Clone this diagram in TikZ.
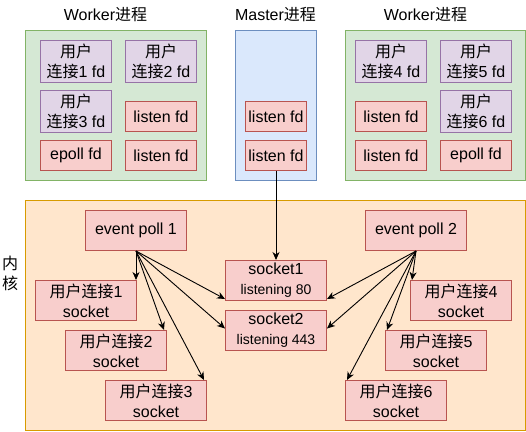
\documentclass[tikz,border=0pt]{standalone}
\usepackage{fontspec}
\setmainfont{Liberation Sans}
\newfontfamily\cjkf{Noto Sans CJK SC}
\usetikzlibrary{arrows.meta}
\definecolor{gfill}{HTML}{D5E8D4}\definecolor{gline}{HTML}{82B366}
\definecolor{bfill}{HTML}{DAE8FC}\definecolor{bline}{HTML}{6C8EBF}
\definecolor{pfill}{HTML}{E1D5E7}\definecolor{pline}{HTML}{9673A6}
\definecolor{rfill}{HTML}{F8CECC}\definecolor{rline}{HTML}{B85450}
\definecolor{ofill}{HTML}{FFE6CC}\definecolor{oline}{HTML}{D79B00}
\newcommand{\zh}[1]{{\cjkf #1}}
\begin{document}
\begin{tikzpicture}[x=1pt,y=-1pt,font=\fontsize{16}{20}\selectfont,
  grp/.style={draw,line width=1pt,anchor=north west,inner sep=0pt},
  ubox/.style={draw=pline,fill=pfill,line width=1pt,anchor=north west,inner sep=0pt,
    minimum width=71pt,minimum height=42pt,align=center},
  rbox/.style={draw=rline,fill=rfill,line width=1pt,anchor=north west,inner sep=0pt,
    minimum width=71pt,minimum height=30pt,align=center},
  mbox/.style={rbox,minimum width=61pt},
  kbox/.style={draw=rline,fill=rfill,line width=1pt,anchor=north west,inner sep=0pt,
    minimum width=101pt,minimum height=40pt,align=center},
  arr/.style={line width=0.9pt,-{Stealth[length=8pt,width=7pt,inset=2.5pt]}}]
\useasboundingbox (0,0) rectangle (526,431);
% process groups
\node[grp,draw=gline,fill=gfill,minimum width=181pt,minimum height=150pt] (wl) at (25,30) {};
\node[grp,draw=bline,fill=bfill,minimum width=81pt,minimum height=150pt] (ms) at (235,30) {};
\node[grp,draw=gline,fill=gfill,minimum width=180pt,minimum height=150pt] (wr) at (345,30) {};
\node (twl) at (105.5,15) {Worker\zh{进程}};
\node (tms) at (275.5,15) {Master\zh{进程}};
\node (twr) at (425.5,15) {Worker\zh{进程}};
% left worker
\node[ubox] (u1) at (40,40) {\zh{用户}\\\zh{连接}1 fd};
\node[ubox] (u2) at (125,40) {\zh{用户}\\\zh{连接}2 fd};
\node[ubox] (u3) at (40,90) {\zh{用户}\\\zh{连接}3 fd};
\node[rbox] (l1) at (125,101) {listen fd};
\node[rbox] (e1) at (40,140) {epoll fd};
\node[rbox] (l2) at (125,140) {listen fd};
% master
\node[mbox] (ml1) at (245,101) {listen fd};
\node[mbox] (ml2) at (245,140) {listen fd};
% right worker
\node[ubox] (u4) at (355,40) {\zh{用户}\\\zh{连接}4 fd};
\node[ubox] (u5) at (440,40) {\zh{用户}\\\zh{连接}5 fd};
\node[rbox] (l3) at (355,101) {listen fd};
\node[ubox] (u6) at (440,90) {\zh{用户}\\\zh{连接}6 fd};
\node[rbox] (l4) at (355,140) {listen fd};
\node[rbox] (e2) at (440,140) {epoll fd};
% kernel
\node[grp,draw=oline,fill=ofill,minimum width=500pt,minimum height=230pt] (kn) at (25,200) {};
\node[align=center] (kl) at (10,273) {\zh{内}\\\zh{核}};
\node[kbox] (ep1) at (85,210) {event poll 1};
\node[kbox] (s1u) at (35,280) {\zh{用户连接}1\\socket};
\node[kbox] (s2u) at (65,330) {\zh{用户连接}2\\socket};
\node[kbox] (s3u) at (105,380) {\zh{用户连接}3\\socket};
\node[kbox] (sk1) at (225,260) {socket1\\{\fontsize{14}{20}\selectfont listening 80}};
\node[kbox] (sk2) at (225,310) {socket2\\{\fontsize{14}{20}\selectfont listening 443}};
\node[kbox] (ep2) at (365,210) {event poll 2};
\node[kbox] (s4u) at (410,280) {\zh{用户连接}4\\socket};
\node[kbox] (s5u) at (385,330) {\zh{用户连接}5\\socket};
\node[kbox] (s6u) at (345,380) {\zh{用户连接}6\\socket};
% connectors
\draw[arr] (ml2.south) -- (sk1.north);
\draw[arr] (ep1.south) -- (ep1.south |- s1u.north);
\draw[arr] (ep1.south) -- ([xshift=-3pt]s2u.north east);
\draw[arr] (ep1.south) -- ([xshift=-3pt]s3u.north east);
\draw[arr] (ep1.south) -- ([yshift=2pt]sk1.south west);
\draw[arr] (ep1.south) -- ([yshift=2pt]sk2.west);
\draw[arr] (ep2.south) -- ([xshift=2pt]s4u.north west);
\draw[arr] (ep2.south) -- ([xshift=2pt]s5u.north west);
\draw[arr] (ep2.south) -- ([xshift=2pt]s6u.north west);
\draw[arr] (ep2.south) -- ([yshift=2pt]sk1.south east);
\draw[arr] (ep2.south) -- ([yshift=2pt]sk2.east);
\end{tikzpicture}
\end{document}
